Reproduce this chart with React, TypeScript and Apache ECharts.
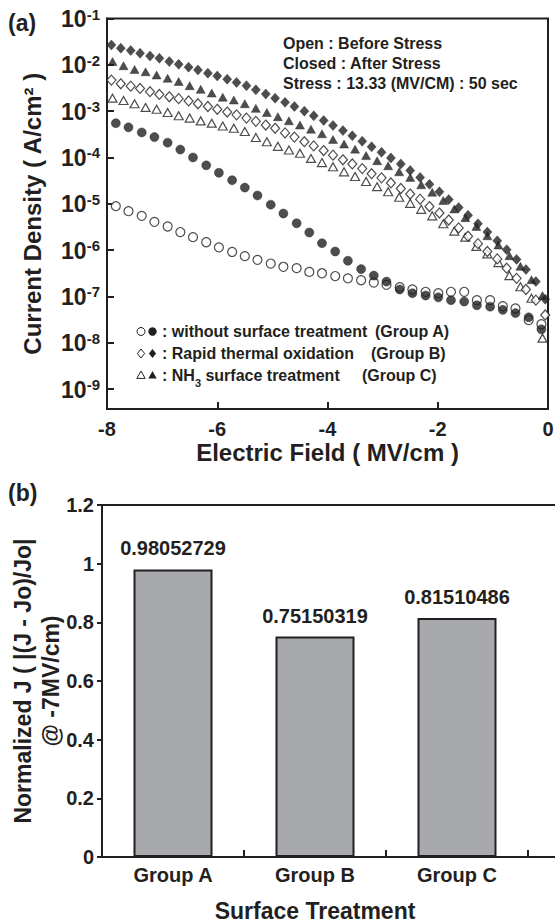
import React, { useEffect, useRef } from "react";
import * as echarts from "echarts";

// ---- (a) J–E characteristics: electric field (MV/cm) and log10 of current density (A/cm^2) ----
const fieldA = [-7.84, -7.61, -7.37, -7.14, -6.9, -6.67, -6.44, -6.2, -5.97, -5.73, -5.5, -5.27, -5.03, -4.8, -4.56, -4.33, -4.1, -3.86, -3.63, -3.39, -3.16, -2.93, -2.69, -2.46, -2.22, -1.99, -1.76, -1.52, -1.29, -1.05, -0.82, -0.59, -0.35, -0.12];
const logJA_before = [-5.05, -5.16, -5.26, -5.39, -5.49, -5.61, -5.72, -5.83, -5.94, -6.04, -6.13, -6.21, -6.29, -6.36, -6.39, -6.47, -6.5, -6.56, -6.61, -6.65, -6.7, -6.75, -6.8, -6.85, -6.9, -6.93, -6.9, -6.9, -7.08, -7.08, -7.21, -7.26, -7.51, -7.6];
const logJA_after = [-3.26, -3.35, -3.46, -3.56, -3.68, -3.83, -4.0, -4.17, -4.33, -4.49, -4.65, -4.82, -5.02, -5.21, -5.42, -5.62, -5.85, -6.03, -6.23, -6.41, -6.55, -6.68, -6.85, -6.93, -6.98, -7.02, -7.08, -7.11, -7.19, -7.22, -7.29, -7.36, -7.45, -7.71];

const fieldB = [-7.92, -7.75, -7.57, -7.4, -7.22, -7.05, -6.87, -6.7, -6.52, -6.35, -6.17, -6.0, -5.82, -5.65, -5.47, -5.3, -5.12, -4.95, -4.77, -4.6, -4.42, -4.25, -4.07, -3.9, -3.72, -3.55, -3.37, -3.2, -3.02, -2.85, -2.67, -2.5, -2.32, -2.15, -1.97, -1.8, -1.62, -1.45, -1.27, -1.1, -0.92, -0.75, -0.57, -0.4, -0.22, -0.05];
const logJB_before = [-2.33, -2.41, -2.46, -2.51, -2.58, -2.64, -2.69, -2.73, -2.78, -2.84, -2.9, -2.96, -3.02, -3.08, -3.15, -3.22, -3.3, -3.37, -3.47, -3.56, -3.66, -3.75, -3.85, -3.95, -4.05, -4.14, -4.24, -4.35, -4.44, -4.55, -4.67, -4.79, -4.9, -5.06, -5.2, -5.35, -5.52, -5.7, -5.86, -6.03, -6.19, -6.39, -6.61, -6.85, -7.08, -7.4];
const logJB_after = [-1.57, -1.64, -1.69, -1.75, -1.81, -1.86, -1.93, -1.99, -2.05, -2.11, -2.18, -2.24, -2.31, -2.38, -2.45, -2.54, -2.63, -2.72, -2.81, -2.9, -3.0, -3.1, -3.2, -3.31, -3.42, -3.53, -3.65, -3.77, -3.89, -4.01, -4.14, -4.28, -4.43, -4.58, -4.74, -4.91, -5.08, -5.25, -5.43, -5.61, -5.8, -5.99, -6.2, -6.42, -6.68, -7.06];

const fieldC = [-7.9, -7.7, -7.5, -7.3, -7.1, -6.9, -6.7, -6.5, -6.3, -6.1, -5.9, -5.7, -5.5, -5.3, -5.1, -4.9, -4.7, -4.5, -4.3, -4.1, -3.9, -3.7, -3.5, -3.3, -3.1, -2.9, -2.7, -2.5, -2.3, -2.1, -1.9, -1.7, -1.5, -1.3, -1.1, -0.9, -0.7, -0.5, -0.3, -0.1];
const logJC_before = [-2.72, -2.77, -2.84, -2.92, -2.96, -3.03, -3.1, -3.15, -3.21, -3.26, -3.32, -3.37, -3.44, -3.57, -3.66, -3.76, -3.84, -3.91, -4.02, -4.11, -4.2, -4.31, -4.41, -4.52, -4.63, -4.74, -4.86, -4.99, -5.12, -5.26, -5.43, -5.59, -5.72, -5.92, -6.08, -6.27, -6.55, -6.79, -7.04, -7.9];
const logJC_after = [-1.93, -2.02, -2.1, -2.15, -2.22, -2.29, -2.36, -2.45, -2.53, -2.61, -2.7, -2.76, -2.84, -2.94, -3.03, -3.12, -3.21, -3.3, -3.39, -3.49, -3.61, -3.71, -3.82, -3.96, -4.07, -4.18, -4.31, -4.43, -4.59, -4.75, -4.93, -5.11, -5.3, -5.49, -5.69, -5.89, -6.12, -6.35, -6.64, -6.98];

const decadeExponents = [-9, -8, -7, -6, -5, -4, -3, -2, -1];
const fieldTicks = [-8, -6, -4, -2, 0];

// ---- (b) normalized current change at -7 MV/cm ----
const treatments = ["Group A", "Group B", "Group C"];
const normalizedJ = [0.98052729, 0.75150319, 0.81510486];

const INK = "#231f20";
const BAR_GRAY = "#a7a9ac";
const FONT = '"Liberation Sans", Arial, Helvetica, sans-serif';

const pairs = (xs: number[], ys: number[]) => xs.map((x, i) => [x, ys[i]]);

export default function App() {
  const ref = useRef<HTMLDivElement>(null);

  useEffect(() => {
    if (!ref.current) return;
    const chart = echarts.init(ref.current, undefined, { renderer: "svg" });

    const bold = (size: number) => ({
      fontSize: size,
      fontWeight: "bold" as const,
      fontFamily: FONT,
      color: INK,
    });
    const openItem = { color: "#ffffff", borderColor: INK, borderWidth: 1.2 };
    const filledItem = { color: INK, borderColor: INK, borderWidth: 0.5 };
    const scatter = (data: number[][], symbol: string, size: any, itemStyle: any) => ({
      type: "scatter",
      xAxisIndex: 0,
      yAxisIndex: 0,
      symbol,
      symbolSize: size,
      itemStyle,
      data,
      silent: true,
    });

    const txt = (x: number, y: number, text: string, size: number, extra: any = {}) => ({
      type: "text",
      x,
      y,
      style: {
        text,
        fill: INK,
        font: `bold ${size}px ${FONT}`,
        textAlign: "left",
        textVerticalAlign: "middle",
        verticalAlign: "middle",
        ...extra,
      },
    });

    const diamond = (cx: number, cy: number) => [
      [cx, cy - 4.5],
      [cx + 3.6, cy],
      [cx, cy + 4.5],
      [cx - 3.6, cy],
    ];
    const triangle = (cx: number, cy: number) => [
      [cx, cy - 4],
      [cx + 4.2, cy + 3.4],
      [cx - 4.2, cy + 3.4],
    ];
    const rowY = [331.5, 353.5, 375];
    const openX = 141;
    const fillX = 152.5;
    const thin = { stroke: INK, lineWidth: 1, fill: "#ffffff" };
    const solid = { fill: INK };

    chart.setOption({
      animation: false,
      backgroundColor: "#ffffff",
      grid: [
        {
          left: 107,
          top: 18.5,
          width: 441,
          height: 390.5,
          show: true,
          borderColor: INK,
          borderWidth: 2,
          backgroundColor: "transparent",
          outerBoundsMode: "none",
        },
        {
          left: 102,
          top: 505,
          width: 426,
          height: 352,
          show: false,
          outerBoundsMode: "none",
        },
      ],
      xAxis: [
        {
          gridIndex: 0,
          type: "value",
          min: -8,
          max: 0,
          interval: 2,
          axisLine: { show: true, onZero: false, lineStyle: { color: INK, width: 2 } },
          axisTick: { show: true, inside: true, length: 7, customValues: fieldTicks, lineStyle: { color: INK, width: 2 } },
          axisLabel: { margin: 10, customValues: fieldTicks, ...bold(20) },
          splitLine: { show: false },
          name: "Electric Field ( MV/cm )",
          nameLocation: "middle",
          nameGap: 31,
          nameMoveOverlap: false,
          nameTextStyle: { ...bold(24), lineHeight: 24 },
        },
        {
          gridIndex: 1,
          type: "category",
          data: treatments,
          boundaryGap: true,
          axisLine: { show: true, onZero: false, lineStyle: { color: INK, width: 2 } },
          axisTick: { show: true, inside: true, length: 7, lineStyle: { color: INK, width: 2 } },
          axisLabel: { margin: 8, ...bold(20) },
          splitLine: { show: false },
          name: "Surface Treatment",
          nameLocation: "middle",
          nameGap: 42,
          nameMoveOverlap: false,
          nameTextStyle: { ...bold(23), lineHeight: 24 },
        },
      ],
      yAxis: [
        {
          gridIndex: 0,
          type: "value",
          min: -9.43,
          max: -1,
          axisLine: { show: true, onZero: false, lineStyle: { color: INK, width: 2 } },
          axisTick: {
            show: true,
            inside: true,
            length: 7,
            customValues: decadeExponents,
            lineStyle: { color: INK, width: 2 },
          },
          axisLabel: {
            customValues: decadeExponents,
            margin: 7,
            formatter: (v: number) => `{b|10}{s|${Math.round(v)}}`,
            rich: {
              b: { ...bold(23), lineHeight: 14, verticalAlign: "bottom" },
              s: { ...bold(15), lineHeight: 24, verticalAlign: "top" },
            },
          },
          splitLine: { show: false },
          name: "Current Density ( A/cm² )",
          nameLocation: "middle",
          nameRotate: 90,
          nameGap: 63,
          nameMoveOverlap: false,
          nameTextStyle: { ...bold(24), lineHeight: 24 },
        },
        {
          gridIndex: 1,
          type: "value",
          min: 0,
          max: 1.2,
          interval: 0.2,
          axisLine: { show: true, onZero: false, lineStyle: { color: INK, width: 2 } },
          axisTick: { show: true, inside: false, length: 5, lineStyle: { color: INK, width: 2 } },
          axisLabel: { margin: 8, ...bold(20) },
          splitLine: { show: false },
          name: "Normalized J ( |(J - Jo)/Jo|\n@ -7MV/cm)",
          nameLocation: "middle",
          nameRotate: 90,
          nameGap: 37,
          nameMoveOverlap: false,
          nameTextStyle: { ...bold(23), lineHeight: 28, align: "center" },
        },
      ],
      series: [
        scatter(pairs(fieldA, logJA_before), "circle", 9, openItem),
        scatter(pairs(fieldA, logJA_after), "circle", 9, filledItem),
        scatter(pairs(fieldC, logJC_before), "triangle", [9, 8], openItem),
        scatter(pairs(fieldB, logJB_before), "diamond", [9, 10], openItem),
        scatter(pairs(fieldC, logJC_after), "triangle", [9, 8], filledItem),
        scatter(pairs(fieldB, logJB_after), "diamond", [9, 10], filledItem),
        {
          type: "bar",
          xAxisIndex: 1,
          yAxisIndex: 1,
          data: normalizedJ,
          barWidth: 79,
          itemStyle: { color: BAR_GRAY, borderColor: INK, borderWidth: 2 },
          label: {
            show: true,
            position: "top",
            distance: 11,
            formatter: (p: any) => Number(p.value).toFixed(8),
            ...bold(20),
          },
          silent: true,
        },
      ],
      graphic: [
        txt(8, 23, "(a)", 23),
        txt(8, 493, "(b)", 23),
        txt(283, 43, "Open : Before Stress", 16),
        txt(283, 63, "Closed : After Stress", 16),
        txt(283, 83, "Stress : 13.33 (MV/CM) : 50 sec", 16),

        // legend rows
        { type: "circle", shape: { cx: openX, cy: rowY[0], r: 4 }, style: thin },
        { type: "circle", shape: { cx: fillX, cy: rowY[0], r: 4.2 }, style: solid },
        { type: "polygon", shape: { points: diamond(openX, rowY[1]) }, style: thin },
        { type: "polygon", shape: { points: diamond(fillX, rowY[1]) }, style: solid },
        { type: "polygon", shape: { points: triangle(openX, rowY[2]) }, style: thin },
        { type: "polygon", shape: { points: triangle(fillX, rowY[2]) }, style: solid },
        txt(162, rowY[0], ": without surface treatment", 16),
        txt(375, rowY[0], "(Group A)", 16),
        txt(162, rowY[1], ": Rapid thermal oxidation", 16),
        txt(371, rowY[1], "(Group B)", 16),
        {
          type: "text",
          x: 162,
          y: rowY[2],
          style: {
            text: "{t|: NH}{sub|3}{t| surface treatment}",
            textVerticalAlign: "middle",
            verticalAlign: "middle",
            rich: {
              t: { fontSize: 16, fontWeight: "bold", fontFamily: FONT, fill: INK, color: INK, lineHeight: 26 },
              sub: { fontSize: 11, fontWeight: "bold", fontFamily: FONT, fill: INK, color: INK, lineHeight: 10, verticalAlign: "bottom" },
            },
          },
        },
        txt(362, rowY[2], "(Group C)", 16),

        // (b) frame lines running past the last category
        { type: "line", shape: { x1: 101, y1: 505, x2: 555, y2: 505 }, style: { stroke: INK, lineWidth: 2 } },
        { type: "line", shape: { x1: 527, y1: 857, x2: 555, y2: 857 }, style: { stroke: INK, lineWidth: 2 } },
      ],
    });

    return () => chart.dispose();
  }, []);

  return (
    <div
      ref={ref}
      style={{ position: "fixed", left: 0, top: 0, width: 555, height: 924, background: "#ffffff" }}
    />
  );
}
